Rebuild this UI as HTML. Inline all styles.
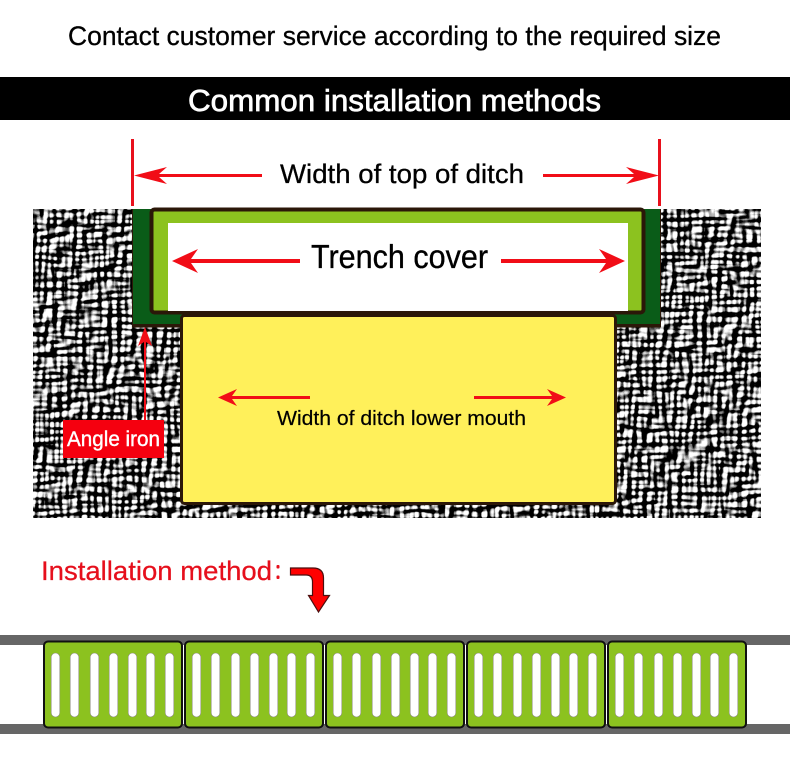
<!DOCTYPE html>
<html><head><meta charset="utf-8"><style>
html,body{margin:0;padding:0;background:#fff}
svg{display:block}
text{font-family:"Liberation Sans",sans-serif}
</style></head><body>
<svg width="790" height="766" viewBox="0 0 790 766" xmlns="http://www.w3.org/2000/svg">
<defs>
<filter id="tex" x="0" y="0" width="100%" height="100%" color-interpolation-filters="sRGB">
<feTurbulence type="fractalNoise" baseFrequency="0.2 0.05" numOctaves="1" seed="4" result="a"/>
<feTurbulence type="fractalNoise" baseFrequency="0.05 0.2" numOctaves="1" seed="11" result="b"/>
<feComposite in="a" in2="b" operator="arithmetic" k1="0" k2="0.5" k3="0.5" k4="0" result="h"/>
<feDiffuseLighting in="h" surfaceScale="8" diffuseConstant="0.78" lighting-color="#fff" result="l">
<feDistantLight azimuth="225" elevation="45"/>
</feDiffuseLighting>
<feComponentTransfer in="l">
<feFuncR type="linear" slope="3" intercept="-1.1"/>
<feFuncG type="linear" slope="3" intercept="-1.1"/>
<feFuncB type="linear" slope="3" intercept="-1.1"/>
</feComponentTransfer>
</filter>
<g id="panel">
<rect x="44" y="641.500" width="138" height="86" rx="4" fill="#8cc21f" stroke="#111" stroke-width="2"/>
<g fill="#fff" stroke="#8a8a7a" stroke-width=".6"><rect x="51.200" y="653" width="8.600" height="64" rx="4.300"/><rect x="70.200" y="653" width="8.600" height="64" rx="4.300"/><rect x="90.200" y="653" width="8.600" height="64" rx="4.300"/><rect x="109.200" y="653" width="8.600" height="64" rx="4.300"/><rect x="128.200" y="653" width="8.600" height="64" rx="4.300"/><rect x="146.200" y="653" width="8.600" height="64" rx="4.300"/><rect x="165.200" y="653" width="8.600" height="64" rx="4.300"/></g>
</g>
</defs>
<rect width="790" height="766" fill="#fff"/>
<text x="68" y="45" font-size="27" fill="#000" stroke="#000" stroke-width=".3" textLength="653" lengthAdjust="spacingAndGlyphs">Contact customer service according to the required size</text>
<rect x="0" y="77" width="790" height="43" fill="#000"/>
<text x="188" y="111" font-size="31" fill="#fff" textLength="413" lengthAdjust="spacingAndGlyphs" stroke="#fff" stroke-width=".7">Common installation methods</text>

<rect x="33" y="209" width="728" height="309" fill="#777" filter="url(#tex)"/>

<!-- angle iron -->
<rect x="132" y="209" width="529" height="118.500" fill="#2b1708"/>
<rect x="133" y="209" width="527" height="115" fill="#0a5c18"/>
<!-- frame -->
<rect x="151.500" y="209.500" width="492" height="103" rx="3" fill="#8cc21f" stroke="#2b1708" stroke-width="4"/>
<rect x="168" y="223" width="460" height="88" fill="#fff"/>
<!-- lower -->
<rect x="181.500" y="315.500" width="434" height="188" rx="3" fill="#fff05a" stroke="#2b1708" stroke-width="3"/>

<!-- dim top -->
<rect x="131" y="139" width="3" height="67" fill="#e8101c"/>
<rect x="658" y="139" width="3" height="67" fill="#e8101c"/>
<g fill="#f10d17">
<path d="M134 175.500 L167 167 L159 174 H262 V177 H159 L167 184 Z"/>
<path d="M659 175.500 L626 167 L634 174 H543 V177 H634 L626 184 Z"/>
<path d="M172 261 L198 249 L191 259 H300 V263 H191 L198 273 Z"/>
<path d="M625 261 L599 249 L606 259 H501 V263 H606 L599 273 Z"/>
<path d="M218 397.500 L237 389 L232 396 H310 V399 H232 L237 406 Z"/>
<path d="M566 397.500 L547 389 L552 396 H474 V399 H552 L547 406 Z"/>
<path d="M145 327 L152 346 L146 342 V420 H144 V342 L138 346 Z"/>
</g>
<text x="280" y="183" font-size="27" fill="#000" stroke="#000" stroke-width=".3" textLength="244" lengthAdjust="spacingAndGlyphs">Width of top of ditch</text>
<text x="311" y="268" font-size="33" fill="#000" stroke="#000" stroke-width=".35" textLength="177" lengthAdjust="spacingAndGlyphs">Trench cover</text>
<text x="277" y="425" font-size="20" fill="#000" stroke="#000" stroke-width=".2" textLength="249" lengthAdjust="spacingAndGlyphs">Width of ditch lower mouth</text>
<rect x="63" y="420" width="101" height="38" fill="#f5000f"/>
<text x="67" y="446" font-size="21" fill="#fff" stroke="#fff" stroke-width=".4" textLength="93" lengthAdjust="spacingAndGlyphs">Angle iron</text>

<text x="41" y="580" font-size="27" fill="#e60f1c" stroke="#e60f1c" stroke-width=".25" textLength="231" lengthAdjust="spacingAndGlyphs">Installation method</text>
<rect x="276.500" y="565" width="3" height="3.500" rx="1" fill="#e60f1c"/>
<rect x="276.500" y="575.500" width="3" height="3.500" rx="1" fill="#e60f1c"/>
<path d="M290.500 568 H313 Q323.500 568 323.500 578 V595.500 H329.500 L318.500 612 L308.500 595.500 H312.500 V582 Q312.500 575 306 575 H290.500 Z" fill="#f00" stroke="#4a0f0f" stroke-width="1.200"/>

<!-- rails -->
<rect x="0" y="635" width="790" height="10" fill="#666"/>
<rect x="0" y="724" width="790" height="10" fill="#666"/>
<!-- panels -->
<use href="#panel"/>
<use href="#panel" x="141"/>
<use href="#panel" x="282"/>
<use href="#panel" x="423"/>
<use href="#panel" x="564"/>
</svg>
</body></html>
